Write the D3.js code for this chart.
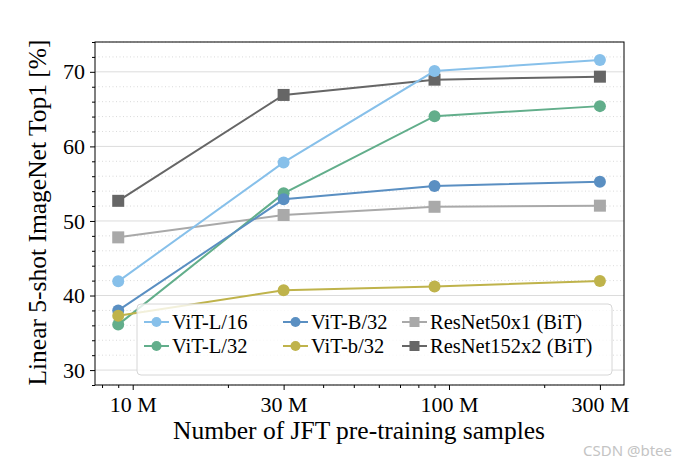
<!DOCTYPE html>
<html><head><meta charset="utf-8">
<script src="https://cdn.jsdelivr.net/npm/d3@7"></script>
<style>body{margin:0;background:#fff}svg{display:block}text{font-family:"Liberation Serif","Times New Roman",serif}</style>
</head><body><svg id="c" width="678" height="467"></svg>
<script>
const samples = [9e6, 30e6, 90e6, 300e6];
const xTickValues = [10e6, 30e6, 100e6, 300e6];
const xTickLabels = ["10 M", "30 M", "100 M", "300 M"];
const yTickValues = [30, 40, 50, 60, 70];
const seriesNames = ["ViT-L/16", "ViT-L/32", "ViT-B/32", "ViT-b/32", "ResNet50x1 (BiT)", "ResNet152x2 (BiT)"];
const vitL16 = [41.9, 57.85, 70.1, 71.6];
const vitL32 = [36.1, 53.7, 64.05, 65.4];
const vitB32 = [38.0, 52.9, 54.7, 55.25];
const vitb32 = [37.3, 40.7, 41.2, 41.95];
const resnet50 = [47.8, 50.8, 51.9, 52.05];
const resnet152 = [52.7, 66.9, 68.95, 69.35];
const seriesValues = [vitL16, vitL32, vitB32, vitb32, resnet50, resnet152];
const colors = ["#87c0ea", "#62ae8b", "#5a8fc2", "#bfb34b", "#a9a9a9", "#666666"];
const markers = ["circle", "circle", "circle", "circle", "square", "square"];

const svg = d3.select("#c");
const L = 95, R = 624, T = 42, B = 385;
const x = d3.scaleLog().domain([7.6e6, 3.575e8]).range([L, R]);
const y = d3.scaleLinear().domain([28, 74]).range([B, T]);

// grid
const minorY = d3.range(28, 75, 2).filter(v => v % 10 !== 0);
svg.append("g").selectAll("line").data(minorY).join("line")
  .attr("x1", L).attr("x2", R).attr("y1", d => y(d)).attr("y2", d => y(d))
  .attr("stroke", "#d0d0d0").attr("stroke-width", 0.8).attr("stroke-dasharray", "1,2.5");
svg.append("g").selectAll("line").data(yTickValues).join("line")
  .attr("x1", L).attr("x2", R).attr("y1", d => y(d)).attr("y2", d => y(d))
  .attr("stroke", "#dcdcdc").attr("stroke-width", 1);

// lines & markers
const line = d3.line().x((d, i) => x(samples[i])).y(d => y(d));
const drawOrder = [4, 5, 0, 1, 2, 3];
drawOrder.forEach(k => {
  const g = svg.append("g");
  g.append("path").attr("d", line(seriesValues[k])).attr("fill", "none")
    .attr("stroke", colors[k]).attr("stroke-width", 2);
  seriesValues[k].forEach((v, i) => {
    if (markers[k] === "circle") {
      g.append("circle").attr("cx", x(samples[i])).attr("cy", y(v)).attr("r", 6).attr("fill", colors[k]);
    } else {
      g.append("rect").attr("x", x(samples[i]) - 6).attr("y", y(v) - 6).attr("width", 12).attr("height", 12).attr("fill", colors[k]);
    }
  });
});

// axes frame
svg.append("rect").attr("x", L).attr("y", T).attr("width", R - L).attr("height", B - T)
  .attr("fill", "none").attr("stroke", "#000").attr("stroke-width", 1);

// y axis
const yAxis = d3.axisLeft(y).tickValues(yTickValues).tickSize(5).tickPadding(5).tickFormat(d3.format("d"));
const gy = svg.append("g").attr("transform", `translate(${L},0)`).call(yAxis);
gy.select(".domain").remove();
gy.selectAll("text").attr("font-size", 22).attr("fill", "#000").attr("font-family", "Liberation Serif");
const gym = svg.append("g").attr("transform", `translate(${L},0)`)
  .call(d3.axisLeft(y).tickValues(minorY).tickSize(3).tickFormat(""));
gym.select(".domain").remove();

// x axis
const xAxis = d3.axisBottom(x).tickValues(xTickValues).tickSize(5).tickPadding(6)
  .tickFormat((d, i) => xTickLabels[i]);
const gx = svg.append("g").attr("transform", `translate(0,${B})`).call(xAxis);
gx.select(".domain").remove();
gx.selectAll("text").attr("font-size", 22).attr("fill", "#000").attr("font-family", "Liberation Serif");
const minorX = [8e6, 9e6, 20e6, 40e6, 50e6, 60e6, 70e6, 80e6, 90e6, 200e6];
const gxm = svg.append("g").attr("transform", `translate(0,${B})`)
  .call(d3.axisBottom(x).tickValues(minorX).tickSize(3).tickFormat(""));
gxm.select(".domain").remove();

// axis labels
svg.append("text").attr("x", 359).attr("y", 439).attr("text-anchor", "middle")
  .attr("font-size", 25.5).text("Number of JFT pre-training samples");
svg.append("text").attr("transform", `translate(46,${(T + B) / 2 - 1}) rotate(-90)`).attr("text-anchor", "middle")
  .attr("font-size", 25.5).text("Linear 5-shot ImageNet Top1 [%]");

// watermark
svg.append("text").attr("x", 672).attr("y", 456).attr("text-anchor", "end")
  .attr("font-size", 15).attr("fill", "#c4c4c4").style("font-family", "'Noto Sans', sans-serif").text("CSDN @btee");

// legend
const lg = svg.append("g");
lg.append("rect").attr("x", 137).attr("y", 304).attr("width", 475).attr("height", 71).attr("rx", 4)
  .attr("fill", "rgba(255,255,255,0.8)").attr("stroke", "#d6d6d6").attr("stroke-width", 1);
const colX = [144, 283, 402];
const rowY = [322, 346];
// column-major like matplotlib ncol=3
seriesNames.forEach((name, k) => {
  const col = Math.floor(k / 2), row = k % 2;
  const lx = colX[col], ly = rowY[row];
  const e = lg.append("g");
  e.append("line").attr("x1", lx).attr("x2", lx + 25).attr("y1", ly).attr("y2", ly)
    .attr("stroke", colors[k]).attr("stroke-width", 2);
  if (markers[k] === "circle") e.append("circle").attr("cx", lx + 12.5).attr("cy", ly).attr("r", 5).attr("fill", colors[k]);
  else e.append("rect").attr("x", lx + 7.5).attr("y", ly - 5).attr("width", 10).attr("height", 10).attr("fill", colors[k]);
  e.append("text").attr("x", lx + 28).attr("y", ly + 6.5).attr("font-size", 20.5).text(name);
});
</script></body></html>
